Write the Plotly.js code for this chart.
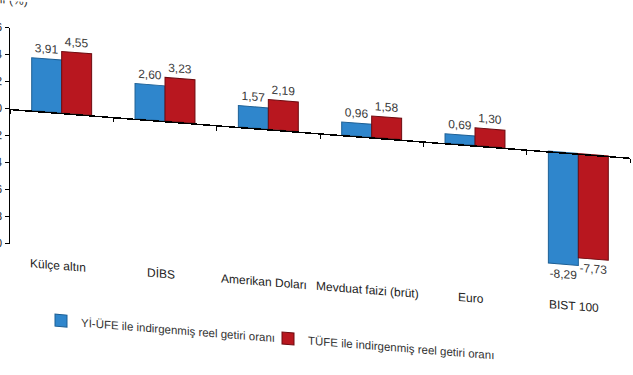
<!DOCTYPE html>
<html>
<head>
<meta charset="utf-8">
<script src="https://cdn.plot.ly/plotly-3.0.1.min.js"></script>
<style>
  html, body { margin: 0; padding: 0; background: #fff; overflow: hidden; }
  #chart { width: 633px; height: 375px; transform: skewY(4.5deg); transform-origin: 0 0; }
</style>
</head>
<body>
<div id="chart"></div>
<script>
const categories = ["Külçe altın", "DİBS", "Amerikan Doları", "Mevduat faizi (brüt)", "Euro", "BIST 100"];
const yiUfe = [3.91, 2.60, 1.57, 0.96, 0.69, -8.29];
const tufe = [4.55, 3.23, 2.19, 1.58, 1.30, -7.73];
const seriesNames = ["Yİ-ÜFE ile indirgenmiş reel getiri oranı", "TÜFE ile indirgenmiş reel getiri oranı"];
const yTickVals = [-10, -8, -6, -4, -2, 0, 2, 4, 6];
const yTitle = "Reel getiri oranı (%)";

const FONT = "'Liberation Sans', Arial, sans-serif";
const fmt = v => v.toFixed(2).replace('.', ',');

const traces = [
  {
    type: 'bar', name: seriesNames[0], x: categories, y: yiUfe,
    marker: { color: '#2F86CC', line: { color: '#1d5f94', width: 1 } },
    text: yiUfe.map(fmt), textposition: 'outside', cliponaxis: false,
    textfont: { family: FONT, size: 12, color: '#3a3a3a' }
  },
  {
    type: 'bar', name: seriesNames[1], x: categories, y: tufe,
    marker: { color: '#B8171F', line: { color: '#6e0b10', width: 1 } },
    text: tufe.map(fmt), textposition: 'outside', cliponaxis: false,
    textfont: { family: FONT, size: 12, color: '#3a3a3a' }
  }
];

const annotations = categories.map(c => ({
  x: c, xref: 'x', y: 0, yref: 'paper', yanchor: 'top', yshift: -9, xshift: -4,
  text: c, showarrow: false, font: { family: FONT, size: 12, color: '#222' }
}));
annotations.push({
  x: 0, xref: 'paper', xanchor: 'right', xshift: 20, y: 1, yref: 'paper', yanchor: 'bottom', yshift: 19,
  text: yTitle, showarrow: false, font: { family: FONT, size: 12, color: '#333' }
});

const layout = {
  width: 633, height: 375,
  margin: { l: 10, r: 3, t: 27, b: 132 },
  paper_bgcolor: '#fff', plot_bgcolor: '#fff',
  barmode: 'group', bargap: 0.42, bargroupgap: 0,
  showlegend: true,
  legend: {
    orientation: 'h', x: 0.05, xanchor: 'left', y: -0.27, yanchor: 'top',
    font: { family: FONT, size: 11.5, color: '#333' },
    itemwidth: 30, entrywidth: 182, entrywidthmode: 'pixels', traceorder: 'normal'
  },
  xaxis: {
    type: 'category', anchor: 'free', position: 0.625,
    showline: true, linecolor: '#000', linewidth: 1.5,
    ticks: 'outside', tickson: 'boundaries', ticklen: 4, tickcolor: '#000',
    showticklabels: false, showgrid: false, zeroline: false,
    range: [-0.5, 5.5]
  },
  yaxis: {
    range: [-10, 6], tickvals: yTickVals,
    ticktext: yTickVals.map(v => String(v)),
    showline: true, linecolor: '#000', linewidth: 1.5,
    ticks: 'outside', ticklen: 4, tickcolor: '#000',
    showgrid: false, zeroline: false,
    tickfont: { family: FONT, size: 12, color: '#333' }
  },
  annotations: annotations
};

Plotly.newPlot('chart', traces, layout, { displayModeBar: false, staticPlot: true });
</script>
</body>
</html>
